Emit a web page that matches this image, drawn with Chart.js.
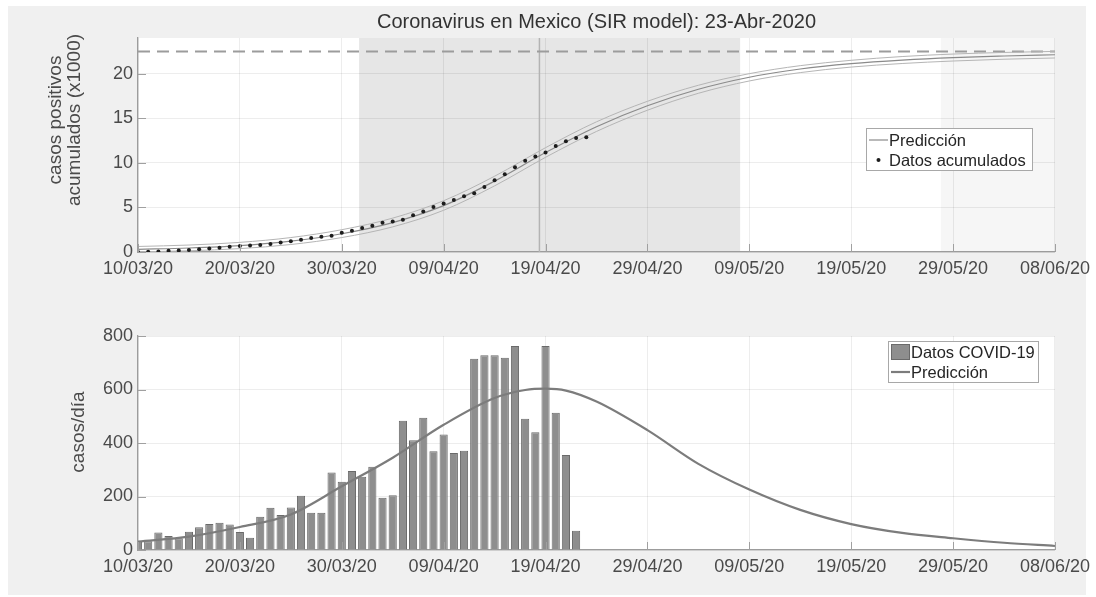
<!DOCTYPE html>
<html lang="es">
<head>
<meta charset="utf-8">
<title>Coronavirus en Mexico (SIR model)</title>
<script src="https://cdn.jsdelivr.net/npm/chart.js@4.4.1/dist/chart.umd.min.js"></script>
<style>
    body { margin: 0; width: 1096px; height: 597px; overflow: hidden; position: relative; background: #fff; }
    #fondo { position: absolute; left: 8px; top: 6px; width: 1078px; height: 589px; background: #f0f0f0; }
    .panel { position: absolute; left: 0; width: 1096px; }
    #panel-acumulados { top: 0; height: 290px; }
    #panel-diarios { top: 290px; height: 307px; }
</style>
</head>
<body>
<div id="fondo"></div>
<div class="panel" id="panel-acumulados"><canvas id="grafico-acumulados"></canvas></div>
<div class="panel" id="panel-diarios"><canvas id="grafico-diarios"></canvas></div>
<script>
// Etiquetas del eje x (cada 10 días a partir del 10/03/20, día 0)
const etiquetasFecha = ['10/03/20', '20/03/20', '30/03/20', '09/04/20', '19/04/20', '29/04/20', '09/05/20', '19/05/20', '29/05/20', '08/06/20'];

// Casos nuevos por día, 10/03/20 .. 22/04/20
const casosDiarios = [33, 33, 65, 52, 44, 68, 85, 97, 102, 95, 67, 46, 124, 158, 131, 159, 203, 139, 139, 290,
    255, 295, 274, 311, 195, 205, 483, 410, 494, 369, 432, 363, 371, 715, 728, 728, 719, 763, 491, 440,
    763, 513, 355, 72];

// Casos positivos acumulados (x1000), 10/03/20 .. 23/04/20
const casosAcumulados = [0.00, 0.03, 0.07, 0.13, 0.18, 0.23, 0.30, 0.38, 0.48, 0.58, 0.67, 0.74, 0.79, 0.91, 1.07,
    1.20, 1.36, 1.56, 1.70, 1.83, 2.16, 2.39, 2.68, 2.93, 3.27, 3.42, 3.62, 4.12, 4.53, 5.06,
    5.43, 5.83, 6.24, 6.60, 7.30, 8.04, 8.73, 9.50, 10.22, 10.71, 11.15, 11.90, 12.42, 12.78, 12.88];

// Predicción del modelo SIR (acumulados x1000) con su banda
const diasPrediccion = [0, 5, 10, 15, 20, 25, 30, 35, 40, 45, 50, 55, 60, 65, 70, 75, 80, 85, 90];
const prediccionAcum = [0.30, 0.45, 0.72, 1.22, 2.05, 3.30, 5.20, 7.95, 11.15, 14.05, 16.40, 18.25, 19.60, 20.52, 21.12, 21.52, 21.80, 21.98, 22.12];
const prediccionSup = [0.62, 0.78, 1.08, 1.62, 2.50, 3.80, 5.75, 8.50, 11.70, 14.60, 16.90, 18.70, 20.00, 20.90, 21.50, 21.92, 22.20, 22.38, 22.50];
const prediccionInf = [0.02, 0.14, 0.38, 0.84, 1.62, 2.82, 4.68, 7.42, 10.62, 13.52, 15.90, 17.80, 19.18, 20.12, 20.74, 21.14, 21.42, 21.62, 21.76];
const totalEsperado = 22.5;

// Predicción de casos por día
const diasPrediccionDiaria = [0, 5, 10, 15, 20, 25, 30, 35, 38, 40, 42, 45, 50, 55, 60, 65, 70, 75, 80, 85, 90];
const prediccionDiaria = [31, 50, 86, 133, 238, 345, 468, 568, 598, 603, 596, 555, 448, 322, 226, 150, 97, 64, 44, 27, 15];

// Zonas sombreadas y línea de fecha actual (en días)
const zonaGris = [21.7, 59.1];
const zonaClara = [78.8, 90];
const diaActual = 39.4;

const FUENTE = '"Liberation Sans", Arial, Helvetica, sans-serif';
Chart.defaults.font.family = FUENTE;
Chart.defaults.color = '#4a4a4a';

const pares = (xs, ys) => ys.map((y, i) => ({ x: xs[i], y: y }));

// Fondo blanco, sombras, línea vertical, título del eje y y marcas de los ejes (estilo MATLAB)
const adornos = {
    id: 'adornos',
    beforeDraw(chart, args, opts) {
        const { ctx, chartArea: a, scales: { x } } = chart;
        ctx.save();
        ctx.fillStyle = '#ffffff';
        ctx.fillRect(a.left, a.top, a.right - a.left, a.bottom - a.top);
        (opts.zonas || []).forEach(z => {
            const x0 = x.getPixelForValue(z.desde);
            const x1 = x.getPixelForValue(z.hasta);
            ctx.fillStyle = z.color;
            ctx.fillRect(x0, a.top, x1 - x0, a.bottom - a.top);
        });
        ctx.restore();
    },
    beforeDatasetsDraw(chart, args, opts) {
        if (opts.lineaVertical === undefined) return;
        const { ctx, chartArea: a, scales: { x } } = chart;
        const px = x.getPixelForValue(opts.lineaVertical);
        ctx.save();
        ctx.strokeStyle = '#b3b3b3';
        ctx.lineWidth = 1.5;
        ctx.beginPath();
        ctx.moveTo(px, a.top);
        ctx.lineTo(px, a.bottom);
        ctx.stroke();
        ctx.restore();
    },
    afterDraw(chart, args, opts) {
        const { ctx, chartArea: a, scales: { x, y } } = chart;
        ctx.save();
        ctx.strokeStyle = '#a0a0a0';
        ctx.lineWidth = 1;
        ctx.beginPath();
        x.ticks.forEach(t => {
            const px = Math.round(x.getPixelForValue(t.value)) + 0.5;
            ctx.moveTo(px, a.bottom);
            ctx.lineTo(px, a.bottom - 8);
        });
        y.ticks.forEach(t => {
            const py = Math.round(y.getPixelForValue(t.value)) + 0.5;
            ctx.moveTo(a.left, py);
            ctx.lineTo(a.left + 8, py);
        });
        ctx.stroke();

        // título del eje y, girado
        const t = opts.tituloY;
        if (t) {
            ctx.fillStyle = '#4a4a4a';
            ctx.font = t.tamano + 'px ' + FUENTE;
            ctx.textAlign = 'center';
            ctx.textBaseline = 'middle';
            t.lineas.forEach((linea, i) => {
                ctx.save();
                ctx.translate(t.x[i], t.y);
                ctx.rotate(-Math.PI / 2);
                ctx.fillText(linea, 0, 0);
                ctx.restore();
            });
        }
        ctx.restore();
    }
};

// Leyenda con caja dentro del área de dibujo
const leyenda = {
    id: 'leyenda',
    afterDraw(chart, args, opts) {
        if (!opts.items) return;
        const ctx = chart.ctx;
        ctx.save();
        ctx.fillStyle = '#ffffff';
        ctx.fillRect(opts.x, opts.y, opts.ancho, opts.alto);
        ctx.strokeStyle = '#a8a8a8';
        ctx.lineWidth = 1;
        ctx.strokeRect(opts.x + 0.5, opts.y + 0.5, opts.ancho, opts.alto);
        ctx.font = opts.tamano + 'px ' + FUENTE;
        ctx.textBaseline = 'middle';
        opts.items.forEach((it, i) => {
            const ds = chart.data.datasets[it.dataset];
            const cy = opts.y + opts.primera + i * opts.fila;
            const x0 = opts.x + 3, x1 = opts.x + 22;
            if (it.tipo === 'linea') {
                ctx.strokeStyle = ds.borderColor;
                ctx.lineWidth = ds.borderWidth;
                ctx.beginPath();
                ctx.moveTo(x0, cy);
                ctx.lineTo(x1, cy);
                ctx.stroke();
            } else if (it.tipo === 'punto') {
                ctx.fillStyle = ds.pointBackgroundColor;
                ctx.beginPath();
                ctx.arc((x0 + x1) / 2, cy, 2, 0, Math.PI * 2);
                ctx.fill();
            } else {
                ctx.fillStyle = ds.backgroundColor;
                ctx.strokeStyle = ds.borderColor;
                ctx.fillRect(x0, cy - 8, x1 - x0, 16);
                ctx.strokeRect(x0 + 0.5, cy - 7.5, x1 - x0 - 1, 15);
            }
            ctx.fillStyle = '#262626';
            ctx.fillText(ds.label, x1 + 1, cy + 1);
        });
        ctx.restore();
    }
};

function ejeX(alto) {
    return {
        type: 'linear',
        min: 0,
        max: 90,
        offset: false,
        afterFit: s => { s.height = alto; },
        grid: { color: 'rgba(0,0,0,0.07)', drawTicks: false, offset: false },
        border: { color: '#9c9c9c', width: 1.3 },
        ticks: {
            stepSize: 10,
            padding: 6,
            maxRotation: 0,
            font: { size: 18 },
            callback: v => etiquetasFecha[v / 10]
        }
    };
}

function ejeY(max, paso) {
    return {
        min: 0,
        max: max,
        afterFit: s => { s.width = 138; },
        grid: { color: 'rgba(0,0,0,0.07)', drawTicks: false },
        border: { color: '#9c9c9c', width: 1.3 },
        ticks: { stepSize: paso, padding: 5, includeBounds: false, font: { size: 18 } }
    };
}

// Gráfico superior: acumulados
new Chart(document.getElementById('grafico-acumulados'), {
    type: 'line',
    data: {
        datasets: [
            {
                label: 'Datos acumulados',
                data: pares(casosAcumulados.map((v, i) => i), casosAcumulados),
                showLine: false,
                pointRadius: 2,
                pointBackgroundColor: '#1c1c1c',
                pointBorderWidth: 0,
                borderColor: '#1c1c1c'
            },
            {
                label: 'Predicción',
                data: pares(diasPrediccion, prediccionAcum),
                borderColor: '#8a8a8a',
                borderWidth: 1.2,
                pointRadius: 0,
                cubicInterpolationMode: 'monotone'
            },
            {
                label: 'Banda superior',
                data: pares(diasPrediccion, prediccionSup),
                borderColor: '#b5b5b5',
                borderWidth: 1,
                pointRadius: 0,
                cubicInterpolationMode: 'monotone'
            },
            {
                label: 'Banda inferior',
                data: pares(diasPrediccion, prediccionInf),
                borderColor: '#b5b5b5',
                borderWidth: 1,
                pointRadius: 0,
                cubicInterpolationMode: 'monotone'
            },
            {
                label: 'Total esperado',
                data: [{ x: 0, y: totalEsperado }, { x: 90, y: totalEsperado }],
                borderColor: '#9c9c9c',
                borderWidth: 2,
                borderDash: [12, 7],
                pointRadius: 0
            }
        ]
    },
    options: {
        responsive: true,
        maintainAspectRatio: false,
        animation: false,
        layout: { padding: { left: 0, right: 40, top: 0, bottom: 0 } },
        scales: {
            x: ejeX(38),
            y: ejeY(24, 5)
        },
        plugins: {
            legend: { display: false },
            tooltip: { enabled: false },
            title: {
                display: true,
                fullSize: false,
                text: 'Coronavirus en Mexico (SIR model): 23-Abr-2020',
                color: '#333333',
                font: { size: 20, weight: 'normal', lineHeight: 1.2 },
                padding: { top: 10, bottom: 4 }
            },
            adornos: {
                zonas: [
                    { desde: zonaGris[0], hasta: zonaGris[1], color: '#e6e6e6' },
                    { desde: zonaClara[0], hasta: zonaClara[1], color: '#f6f6f6' }
                ],
                lineaVertical: diaActual,
                tituloY: { lineas: ['casos positivos', 'acumulados (x1000)'], x: [56, 75], y: 120, tamano: 19 }
            },
            leyenda: {
                x: 866, y: 128, ancho: 166, alto: 42, primera: 12, fila: 20, tamano: 16.5,
                items: [{ dataset: 1, tipo: 'linea' }, { dataset: 0, tipo: 'punto' }]
            }
        }
    },
    plugins: [adornos, leyenda]
});

// Gráfico inferior: casos por día
new Chart(document.getElementById('grafico-diarios'), {
    type: 'bar',
    data: {
        datasets: [
            {
                type: 'line',
                label: 'Predicción',
                data: pares(diasPrediccionDiaria, prediccionDiaria),
                borderColor: '#7c7c7c',
                borderWidth: 2.2,
                pointRadius: 0,
                cubicInterpolationMode: 'monotone',
                order: 0
            },
            {
                label: 'Datos COVID-19',
                data: pares(casosDiarios.map((v, i) => i), casosDiarios),
                backgroundColor: '#8e8e8e',
                borderColor: '#6a6a6a',
                borderWidth: 1,
                barPercentage: 0.8,
                categoryPercentage: 1,
                clip: 0,
                order: 1
            }
        ]
    },
    options: {
        responsive: true,
        maintainAspectRatio: false,
        animation: false,
        layout: { padding: { left: 0, right: 41, top: 46, bottom: 0 } },
        scales: {
            x: ejeX(47),
            y: ejeY(800, 200)
        },
        plugins: {
            legend: { display: false },
            tooltip: { enabled: false },
            adornos: {
                zonas: [],
                tituloY: { lineas: ['casos/día'], x: [79], y: 142, tamano: 19 }
            },
            leyenda: {
                x: 888, y: 51, ancho: 150, alto: 41, primera: 11, fila: 20, tamano: 16.5,
                items: [{ dataset: 1, tipo: 'caja' }, { dataset: 0, tipo: 'linea' }]
            }
        }
    },
    plugins: [adornos, leyenda]
});
</script>
</body>
</html>
